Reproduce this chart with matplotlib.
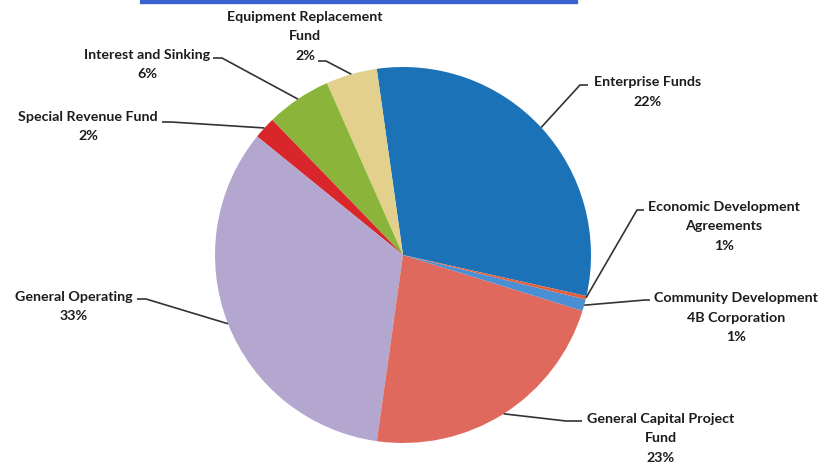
import numpy as np
import matplotlib
matplotlib.use("Agg")
import matplotlib.pyplot as plt
from matplotlib.patches import Rectangle

# wedge sizes, label text as printed on the chart
funds = ["Enterprise Funds", "Equipment Replacement\nFund", "Interest and Sinking",
         "Special Revenue Fund", "General Operating", "General Capital Project\nFund",
         "Community Development\n4B Corporation", "Economic Development\nAgreements"]
shares = [30.7, 4.4, 5.6, 1.9, 33.6, 22.4, 1.0, 0.3]
pct_labels = ["22%", "2%", "6%", "2%", "33%", "23%", "1%", "1%"]
colors = ["#1c72b6", "#e2d08c", "#8bb43a", "#d8262b", "#b4a7cf", "#e0695d",
          "#4a8fd3", "#e0603f"]

W, H = 825, 466
fig = plt.figure(figsize=(W / 100, H / 100), dpi=100)
ax = fig.add_axes([0, 0, 1, 1])

cx, cy, r = 403, H - 255, 188
wedges, _ = ax.pie(shares, colors=colors, startangle=-12.6, counterclock=True,
                   center=(cx, cy), radius=r, frame=True,
                   wedgeprops=dict(linewidth=0))
ax.set_xlim(0, W)
ax.set_ylim(0, H)
ax.set_aspect("equal")
ax.axis("off")

# label layout in pixel coords (top-left origin): text centre x, first line y,
# leader attach point next to the text, elbow point
layout = [
    (648, 82, (588, 85), (580, 85)),
    (305, 17, (318, 61), (326, 61)),
    (147, 55, (213, 58), (222, 58)),
    (88, 117, (162, 122), (171, 122)),
    (74, 297, (137, 299), (146, 299)),
    (661, 419, (582, 421), (566, 421)),
    (736, 298, (650, 300), (645, 300)),
    (724, 207, (644, 210), (637, 210)),
]

font = dict(family=["Lato", "DejaVu Sans"], fontweight="bold", fontsize=10.3,
            color="#1c1c1c")
line_h = 19.5
for w, name, pct, (tx, ty, attach, elbow) in zip(wedges, funds, pct_labels, layout):
    lines = name.split("\n") + [pct]
    for i, s in enumerate(lines):
        ax.text(tx, H - (ty + i * line_h), s, ha="center", va="center", **font)
    mid = np.deg2rad((w.theta1 + w.theta2) / 2)
    rx, ry = cx + r * np.cos(mid), cy + r * np.sin(mid)
    ax.plot([attach[0], elbow[0], rx], [H - attach[1], H - elbow[1], ry],
            color="#333333", lw=1.2, solid_capstyle="butt")

# edge of the title box cut off at the top
fig.patches.append(Rectangle((140 / W, 1 - 3 / H), (577 - 140) / W, 3 / H,
                             transform=fig.transFigure, color="#3b63d0"))

fig.savefig("out.png", dpi=100)
